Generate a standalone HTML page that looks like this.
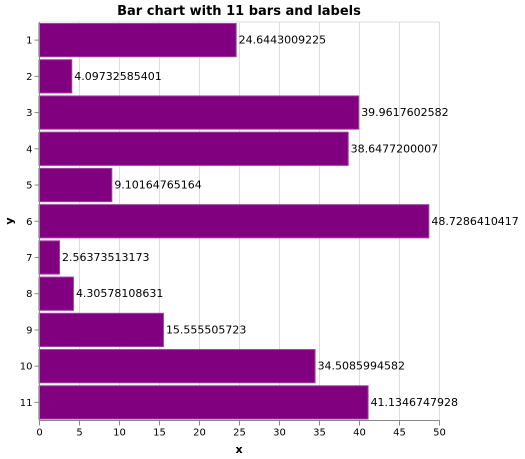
<!DOCTYPE html>
<html><head><meta charset="utf-8"><style>
body{margin:0;background:#fff;}
svg{display:block;font-family:"DejaVu Sans","Liberation Sans",sans-serif;}
</style></head><body>
<svg id="chart" width="525" height="459">
<text x="239" y="15" text-anchor="middle" font-size="13" font-weight="bold">Bar chart with 11 bars and labels</text>
<g id="grid"></g><g id="bars"></g><g id="axes"></g>
<text x="239" y="453" text-anchor="middle" font-size="11" font-weight="bold">x</text>
<text transform="translate(13,221) rotate(-90)" text-anchor="middle" font-size="11" font-weight="bold">y</text>
</svg>
<script>
const categories=["1","2","3","4","5","6","7","8","9","10","11"];
const values=[24.6443009225,4.09732585401,39.9617602582,38.6477200007,9.10164765164,48.7286410417,2.56373513173,4.30578108631,15.555505723,34.5085994582,41.1346747928];
const xTicks=[0,5,10,15,20,25,30,35,40,45,50];
const NS="http://www.w3.org/2000/svg";
const L=39.5,R=439.5,T=22,B=420.5;
const xs=v=>L+v/50*(R-L);
const band=(B-T)/categories.length;
const ys=i=>T+i*band;
function mk(tag,attrs,parent){const e=document.createElementNS(NS,tag);for(const k in attrs)e.setAttribute(k,attrs[k]);document.getElementById(parent).appendChild(e);return e;}
xTicks.forEach(t=>{
 const g=mk('line',{x1:xs(t),x2:xs(t),y1:T,y2:B,stroke:'#ddd'},'grid');
 
 
 const tk=mk('line',{x1:xs(t),x2:xs(t),y1:B,y2:B+5,stroke:'#888'},'axes');
 
 
 const lb=mk('text',{x:xs(t),y:B+15,'text-anchor':'middle','font-size':10},'axes');
 lb.textContent=t;
 
 
});
mk('line',{x1:L,x2:R,y1:T,y2:T,stroke:'#ddd'},'grid');
categories.forEach((c,i)=>{
 const y0=ys(i)+1.5,h=band-3;
 const r=mk('rect',{x:L-0.5,y:y0,width:xs(values[i])-L,height:h,fill:'#800080',stroke:'#a040a0','stroke-width':1},'bars');
 
 
 const t=mk('text',{x:xs(values[i])+2,y:y0+h/2+3.5,'font-size':11},'bars');
 t.textContent=String(values[i]);
 
 
 const cy=ys(i)+band/2;
 const tk=mk('line',{x1:L-5,x2:L,y1:cy,y2:cy,stroke:'#888'},'axes');
 
 
 const lb=mk('text',{x:L-7,y:cy+3.5,'text-anchor':'end','font-size':10},'axes');
 lb.textContent=c;
 
 
});
const xa=mk('line',{x1:L,x2:R,y1:B,y2:B,stroke:'#888'},'axes');


const ya=mk('line',{x1:L,x2:L,y1:T,y2:B,stroke:'#888'},'axes');


</script>
</body></html>
